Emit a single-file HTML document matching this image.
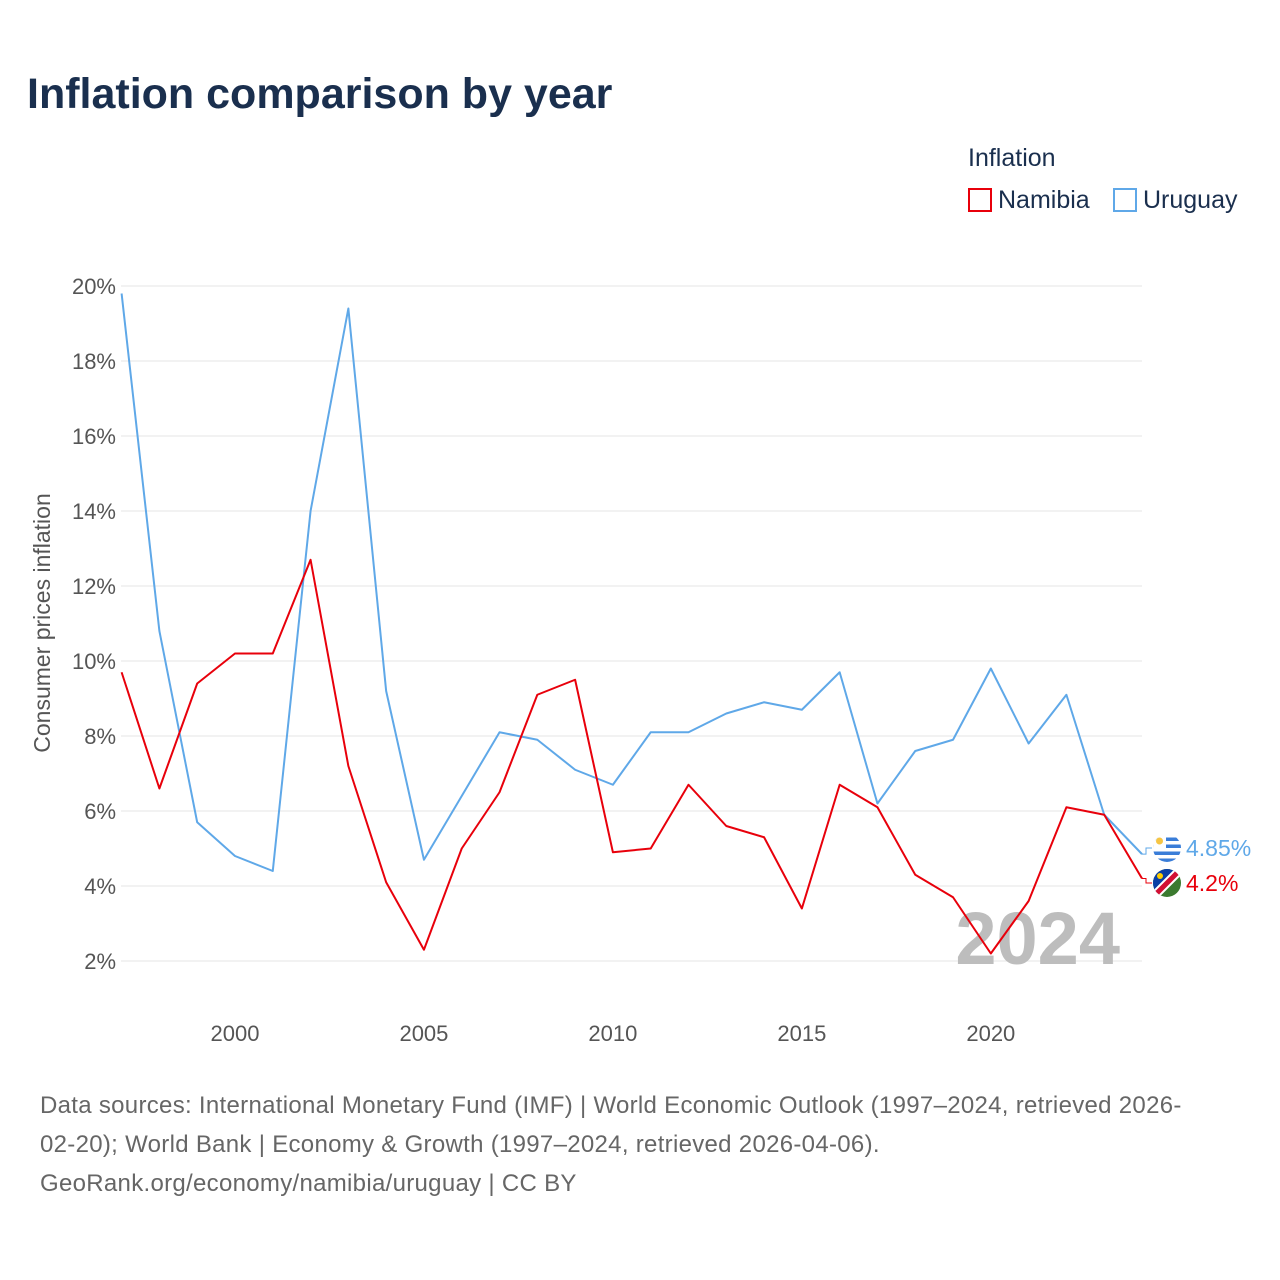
<!DOCTYPE html>
<html><head><meta charset="utf-8"><style>
body{margin:0;background:#fff;font-family:"Liberation Sans",sans-serif;}
#wrap{position:relative;width:1280px;height:1280px;overflow:hidden;}
.t{position:absolute;white-space:nowrap;}
</style></head><body>
<div id="wrap">
<div class="t" style="left:27px;top:70px;font-size:43px;font-weight:bold;color:#1a2f4e;">Inflation comparison by year</div>
<div class="t" style="left:968px;top:144px;font-size:25px;color:#1a2f4e;">Inflation</div>
<div class="t" style="left:968px;top:186px;font-size:25px;color:#1a2f4e;"><span style="display:inline-block;width:24px;height:24px;border:2px solid #e8000b;box-sizing:border-box;vertical-align:-4px;margin-right:6px;"></span>Namibia</div>
<div class="t" style="left:1113px;top:186px;font-size:25px;color:#1a2f4e;"><span style="display:inline-block;width:24px;height:24px;border:2px solid #5fa8e8;box-sizing:border-box;vertical-align:-4px;margin-right:6px;"></span>Uruguay</div>
<svg id="chart" width="1280" height="1280" style="position:absolute;left:0;top:0"></svg>
<div class="t" style="left:40px;top:1086px;font-size:24px;line-height:39px;color:#666;letter-spacing:0.3px;">Data sources: International Monetary Fund (IMF) | World Economic Outlook (1997–2024, retrieved 2026-<br>02-20); World Bank | Economy &amp; Growth (1997–2024, retrieved 2026-04-06).<br>GeoRank.org/economy/namibia/uruguay | CC BY</div>
</div>
<script>
const years=[1997,1998,1999,2000,2001,2002,2003,2004,2005,2006,2007,2008,2009,2010,2011,2012,2013,2014,2015,2016,2017,2018,2019,2020,2021,2022,2023,2024];
const namibia=[9.7,6.6,9.4,10.2,10.2,12.7,7.2,4.1,2.3,5.0,6.5,9.1,9.5,4.9,5.0,6.7,5.6,5.3,3.4,6.7,6.1,4.3,3.7,2.2,3.6,6.1,5.9,4.2];
const uruguay=[19.8,10.8,5.7,4.8,4.4,14.0,19.4,9.2,4.7,6.4,8.1,7.9,7.1,6.7,8.1,8.1,8.6,8.9,8.7,9.7,6.2,7.6,7.9,9.8,7.8,9.1,5.9,4.85];
const yTicks=[2,4,6,8,10,12,14,16,18,20];
const xTicks=[2000,2005,2010,2015,2020];
const NS="http://www.w3.org/2000/svg";
const svg=document.getElementById('chart');
const x=v=>121.6+(v-1997)*(1142-121.6)/27;
const y=v=>1036-v*37.5;
function mk(t,a,txt){const e=document.createElementNS(NS,t);for(const k in a)e.setAttribute(k,a[k]);if(txt!=null)e.textContent=txt;svg.appendChild(e);return e;}
yTicks.forEach(v=>{
 const g=mk('line',{x1:121,x2:1142,y1:y(v),y2:y(v),stroke:'#e6e6e6','stroke-width':1});
 
 
 const l=mk('text',{x:116,y:y(v)+8,'text-anchor':'end','font-size':22,fill:'#555','font-family':'Liberation Sans'},v+'%');
 
 
});
xTicks.forEach(v=>{
 const l=mk('text',{x:x(v),y:1041,'text-anchor':'middle','font-size':22,fill:'#555','font-family':'Liberation Sans'},v);
 
 
});
const yt=mk('text',{x:0,y:0,transform:'translate(50,623) rotate(-90)','text-anchor':'middle','font-size':23,fill:'#555','font-family':'Liberation Sans'},'Consumer prices inflation');


const yr=mk('text',{x:1120,y:964,'text-anchor':'end','font-size':74,'font-weight':'bold',fill:'#bdbdbd','font-family':'Liberation Sans'},'2024');


function line(data,color,name){
 const p=mk('polyline',{points:data.map((v,i)=>x(years[i])+','+y(v)).join(' '),fill:'none',stroke:color,'stroke-width':2,'stroke-linejoin':'round'});
 
 
}
line(uruguay,'#5fa8e8','uruguay-line');
line(namibia,'#e8000b','namibia-line');
const uy=y(uruguay[27]),ny=y(namibia[27]);
const lu=848,ln=883;
mk('polyline',{points:`${x(2024)},${uy} 1146,${uy} 1146,${lu} 1152,${lu}`,fill:'none',stroke:'#5fa8e8','stroke-width':1});
mk('polyline',{points:`${x(2024)},${ny} 1146,${ny} 1146,${ln} 1152,${ln}`,fill:'none',stroke:'#e8000b','stroke-width':1});
const fu=mk('g',{});
mk('defs',{}).innerHTML='<clipPath id="cu"><circle cx="1167" cy="'+lu+'" r="14"/></clipPath><clipPath id="cn"><circle cx="1167" cy="'+ln+'" r="14"/></clipPath>';
let s='<g clip-path="url(#cu)"><rect x="1153" y="'+(lu-14)+'" width="28" height="28" fill="#fff"/>';
for(let i=0;i<4;i++)s+='<rect x="1153" y="'+(lu-14+3.5+i*7)+'" width="28" height="3.5" fill="#3a7dd8"/>';
s+='<rect x="1153" y="'+(lu-14)+'" width="13" height="14" fill="#fff"/><circle cx="1159.5" cy="'+(lu-7)+'" r="3.5" fill="#f6c544"/></g>';
fu.innerHTML=s;
const fn=mk('g',{});
fn.innerHTML='<g clip-path="url(#cn)"><rect x="1153" y="'+(ln-14)+'" width="28" height="28" fill="#3b7a2f"/><polygon points="1153,'+(ln-14)+' 1181,'+(ln-14)+' 1153,'+(ln+14)+'" fill="#0a3fa6"/><line x1="1153" y1="'+(ln+14)+'" x2="1181" y2="'+(ln-14)+'" stroke="#fff" stroke-width="9"/><line x1="1153" y1="'+(ln+14)+'" x2="1181" y2="'+(ln-14)+'" stroke="#d21034" stroke-width="5"/><circle cx="1160" cy="'+(ln-7)+'" r="3" fill="#ffce00"/></g>';
const tu=mk('text',{x:1186,y:lu+8,'font-size':23,fill:'#5fa8e8','font-family':'Liberation Sans'},'4.85%');


const tn=mk('text',{x:1186,y:ln+8,'font-size':23,fill:'#e8000b','font-family':'Liberation Sans'},'4.2%');


</script>
</body></html>
